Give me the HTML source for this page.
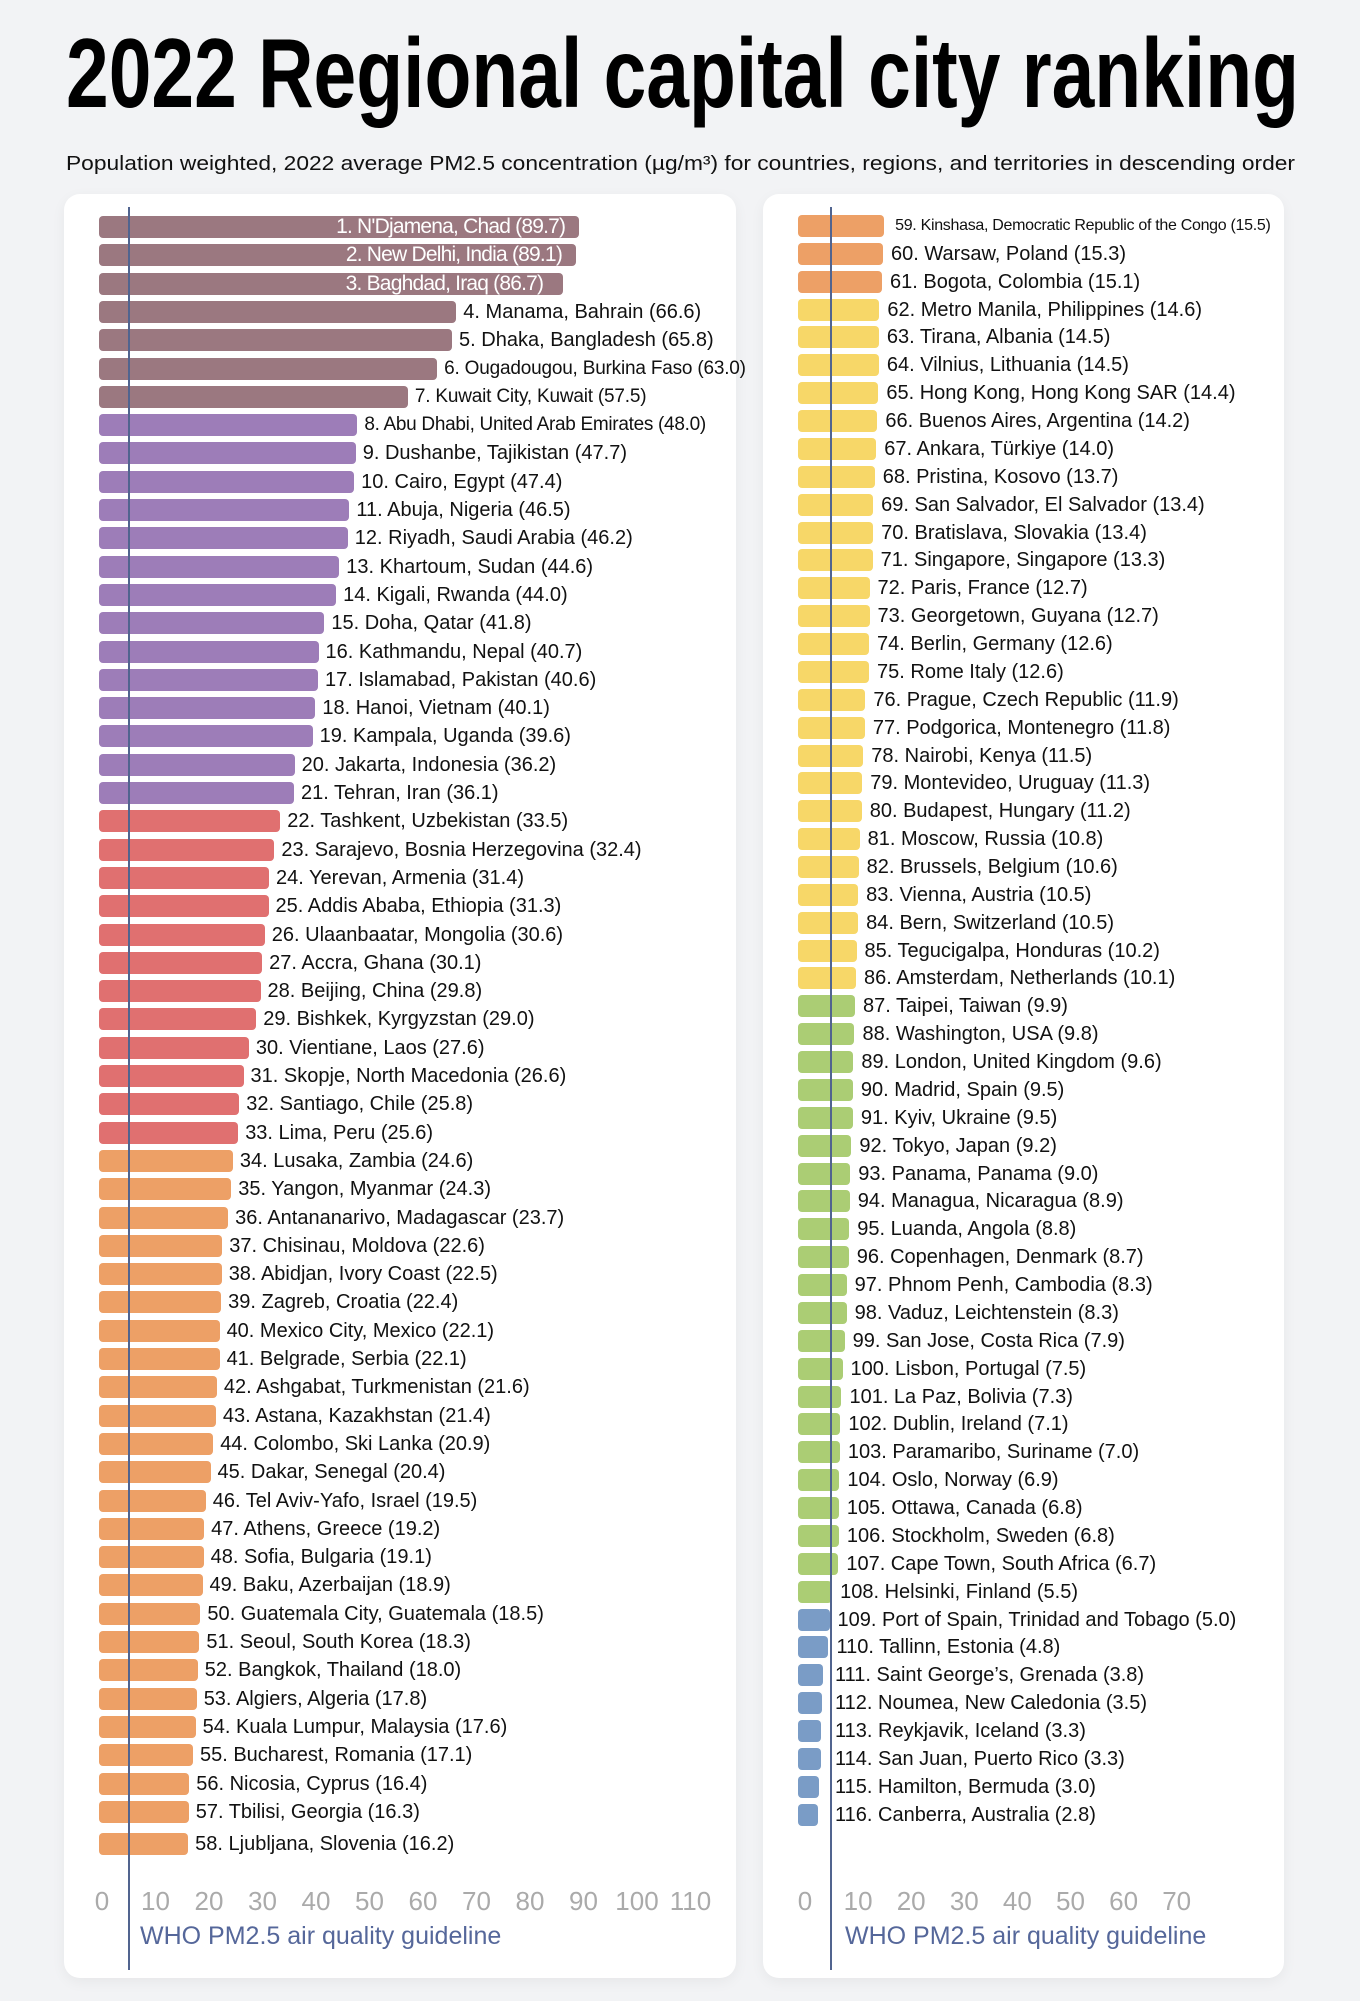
<!DOCTYPE html>
<html><head><meta charset="utf-8"><style>
html,body{margin:0;padding:0}
body{width:1360px;height:2001px;background:#f2f3f5;position:relative;overflow:hidden;font-family:"Liberation Sans",Arial,sans-serif}
.panel{position:absolute;background:#fff;border-radius:16px;box-shadow:0 4px 14px rgba(0,0,0,0.05)}
.bar{position:absolute;height:22px;border-radius:4px}
.lab{position:absolute;font-size:20px;color:#111;white-space:nowrap;line-height:22px}
.tick{position:absolute;font-size:26px;color:#aaa;transform:translateX(-50%);top:1886px}
.gl{position:absolute;width:2px;background:#51648f}
.who{position:absolute;font-size:25px;color:#55679a;top:1922px}
</style></head><body>
<svg style="position:absolute;left:0;top:0" width="1360" height="200">
<text x="66" y="107" font-family="Liberation Sans, Arial, sans-serif" font-weight="bold" font-size="98" textLength="1233" lengthAdjust="spacingAndGlyphs" fill="#000">2022 Regional capital city ranking</text>
<text x="66" y="170" font-family="Liberation Sans, Arial, sans-serif" font-size="20" textLength="1229" lengthAdjust="spacingAndGlyphs" fill="#111">Population weighted, 2022 average PM2.5 concentration (µg/m³) for countries, regions, and territories in descending order</text>
</svg>
<div class="panel" style="left:64px;top:194px;width:672px;height:1784px"></div>
<div class="panel" style="left:763px;top:194px;width:521px;height:1784px"></div>
<div id="c"></div>
<script>
var d=[["N'Djamena, Chad ",89.7],["New Delhi, India",89.1],["Baghdad, Iraq",86.7],["Manama, Bahrain",66.6],["Dhaka, Bangladesh",65.8],["Ougadougou, Burkina Faso",63.0],["Kuwait City, Kuwait",57.5],["Abu Dhabi, United Arab Emirates",48.0],["Dushanbe, Tajikistan",47.7],["Cairo, Egypt",47.4],["Abuja, Nigeria",46.5],["Riyadh, Saudi Arabia",46.2],["Khartoum, Sudan",44.6],["Kigali, Rwanda",44.0],["Doha, Qatar",41.8],["Kathmandu, Nepal",40.7],["Islamabad, Pakistan",40.6],["Hanoi, Vietnam",40.1],["Kampala, Uganda",39.6],["Jakarta, Indonesia",36.2],["Tehran, Iran",36.1],["Tashkent, Uzbekistan",33.5],["Sarajevo, Bosnia Herzegovina",32.4],["Yerevan, Armenia",31.4],["Addis Ababa, Ethiopia",31.3],["Ulaanbaatar, Mongolia",30.6],["Accra, Ghana",30.1],["Beijing, China",29.8],["Bishkek, Kyrgyzstan",29.0],["Vientiane, Laos",27.6],["Skopje, North Macedonia",26.6],["Santiago, Chile",25.8],["Lima, Peru",25.6],["Lusaka, Zambia",24.6],["Yangon, Myanmar",24.3],["Antananarivo, Madagascar",23.7],["Chisinau, Moldova",22.6],["Abidjan, Ivory Coast",22.5],["Zagreb, Croatia",22.4],["Mexico City, Mexico",22.1],["Belgrade, Serbia",22.1],["Ashgabat, Turkmenistan",21.6],["Astana, Kazakhstan",21.4],["Colombo, Ski Lanka",20.9],["Dakar, Senegal",20.4],["Tel Aviv-Yafo, Israel",19.5],["Athens, Greece",19.2],["Sofia, Bulgaria",19.1],["Baku, Azerbaijan",18.9],["Guatemala City, Guatemala",18.5],["Seoul, South Korea",18.3],["Bangkok, Thailand",18.0],["Algiers, Algeria",17.8],["Kuala Lumpur, Malaysia",17.6],["Bucharest, Romania",17.1],["Nicosia, Cyprus",16.4],["Tbilisi, Georgia",16.3],["Ljubljana, Slovenia",16.2],
["Kinshasa, Democratic Republic of the Congo",15.5],["Warsaw, Poland",15.3],["Bogota, Colombia",15.1],["Metro Manila, Philippines",14.6],["Tirana, Albania",14.5],["Vilnius, Lithuania",14.5],["Hong Kong, Hong Kong SAR",14.4],["Buenos Aires, Argentina",14.2],["Ankara, Türkiye",14.0],["Pristina, Kosovo",13.7],["San Salvador, El Salvador",13.4],["Bratislava, Slovakia",13.4],["Singapore, Singapore",13.3],["Paris, France",12.7],["Georgetown, Guyana",12.7],["Berlin, Germany",12.6],["Rome Italy",12.6],["Prague, Czech Republic",11.9],["Podgorica, Montenegro",11.8],["Nairobi, Kenya",11.5],["Montevideo, Uruguay",11.3],["Budapest, Hungary",11.2],["Moscow, Russia",10.8],["Brussels, Belgium",10.6],["Vienna, Austria",10.5],["Bern, Switzerland",10.5],["Tegucigalpa, Honduras",10.2],["Amsterdam, Netherlands",10.1],["Taipei, Taiwan",9.9],["Washington, USA",9.8],["London, United Kingdom",9.6],["Madrid, Spain",9.5],["Kyiv, Ukraine",9.5],["Tokyo, Japan",9.2],["Panama, Panama",9.0],["Managua, Nicaragua",8.9],["Luanda, Angola",8.8],["Copenhagen, Denmark",8.7],["Phnom Penh, Cambodia",8.3],["Vaduz, Leichtenstein",8.3],["San Jose, Costa Rica",7.9],["Lisbon, Portugal",7.5],["La Paz, Bolivia",7.3],["Dublin, Ireland",7.1],["Paramaribo, Suriname",7.0],["Oslo, Norway",6.9],["Ottawa, Canada",6.8],["Stockholm, Sweden",6.8],["Cape Town, South Africa",6.7],["Helsinki, Finland",5.5],["Port of Spain, Trinidad and Tobago",5.0],["Tallinn, Estonia",4.8],["Saint George’s, Grenada",3.8],["Noumea, New Caledonia",3.5],["Reykjavik, Iceland",3.3],["San Juan, Puerto Rico",3.3],["Hamilton, Bermuda",3.0],["Canberra, Australia",2.8]];
function col(r){if(r<=7)return"#9b7880";if(r<=21)return"#9d7db8";if(r<=33)return"#e07070";if(r<=61)return"#eda066";if(r<=86)return"#f7d768";if(r<=108)return"#abcd74";return"#7a9cc6";}
var h="";
for(var k=0;k<d.length;k++){var r=k+1,v=d[k][1],x,y,w,t=r+". "+d[k][0]+" ("+v.toFixed(1)+")",lx;
if(k<58){x=99;y=(k<57)?216+k*28.3:1833;w=3+v*5.32;lx=x+w+7;}else{var j=k-58;x=798;y=215+j*27.87;w=5.5+v*5.2;lx=Math.max(x+w+8,835);}
h+='<div class="bar" style="left:'+x+'px;top:'+y+'px;width:'+w+'px;background:'+col(r)+'"></div>';
if(r<=3){h+='<div class="lab" style="color:#fff;font-size:21px;letter-spacing:-0.8px;right:'+(1360-(x+w)+(r==3?20:14))+'px;top:'+y+'px">'+t+'</div>';}
else{var fs=(r==59)?"font-size:16px;letter-spacing:-0.3px;":(r==6||r==7?"font-size:19px;letter-spacing:-0.2px;":(r==4||r==5?"font-size:20px;":(r==8?"font-size:19px;letter-spacing:-0.3px;":"")));
h+='<div class="lab" style="'+fs+'left:'+(r==59?lx+3:lx)+'px;top:'+y+'px">'+t+'</div>';}}
for(var i=0;i<=11;i++)h+='<div class="tick" style="left:'+(102+i*53.5)+'px">'+(i*10)+'</div>';
for(var i=0;i<=7;i++)h+='<div class="tick" style="left:'+(805+i*53.1)+'px">'+(i*10)+'</div>';
h+='<div class="gl" style="left:128px;top:207px;height:1763px"></div>';
h+='<div class="gl" style="left:830px;top:207px;height:1763px"></div>';
h+='<div class="who" style="left:140px">WHO PM2.5 air quality guideline</div>';
h+='<div class="who" style="left:845px">WHO PM2.5 air quality guideline</div>';
document.getElementById("c").innerHTML=h;
</script>
</body></html>
